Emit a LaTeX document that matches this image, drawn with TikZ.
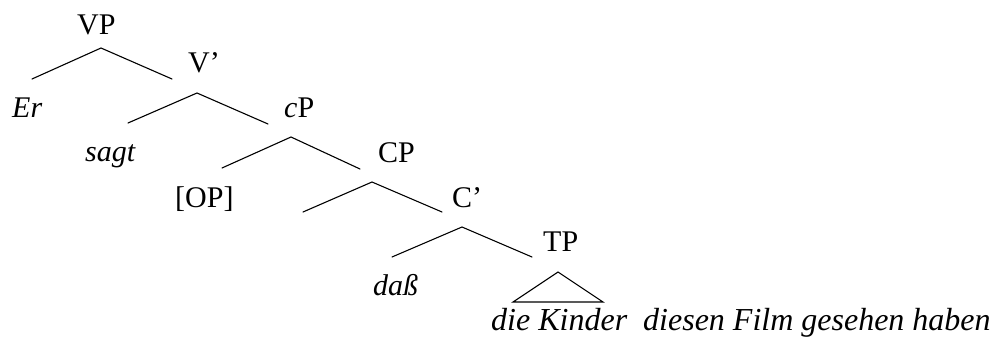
\documentclass[tikz,border=0pt]{standalone}
\usepackage{fontspec}
\setmainfont{Liberation Serif}
\begin{document}
\begin{tikzpicture}[x=1pt,y=-1pt,
  lbl/.style={inner sep=0pt,anchor=base west,font=\fontsize{30}{35}\selectfont},
  branch/.style={line width=1.1pt,line cap=round,line join=miter}]
\useasboundingbox (0,0) rectangle (998,345);
% labels
\node[lbl] (VP) at (77,35) {VP};
\node[lbl] (Vbar) at (188,72) {V'};
\node[lbl] (Er) at (12,117) {\itshape Er};
\node[lbl] (cP) at (284,117) {{\itshape c}P};
\node[lbl] (sagt) at (85,161) {\itshape sagt};
\node[lbl] (CP) at (378,162) {CP};
\node[lbl] (OP) at (175,207) {[OP]};
\node[lbl] (Cbar) at (452,207) {C'};
\node[lbl] (dass) at (373,295) {\itshape daß};
\node[lbl] (TP) at (543,251) {TP};
\node[lbl,font=\fontsize{32}{37}\selectfont\itshape] (words) at (491,330) {die Kinder\hspace{0.5em}diesen Film gesehen haben};
% branch coordinates
\coordinate (vpT) at (101,48);  \coordinate (vpL) at (32,79);  \coordinate (vpR) at (172,79);
\coordinate (vbT) at (197,93);  \coordinate (vbL) at (128,123); \coordinate (vbR) at (268,124);
\coordinate (cpT) at (291,137); \coordinate (cpL) at (222,168); \coordinate (cpR) at (360,169);
\coordinate (CPT) at (372,182); \coordinate (CPL) at (303,212); \coordinate (CPR) at (442,212);
\coordinate (cbT) at (462,227); \coordinate (cbL) at (392,257); \coordinate (cbR) at (532,257);
\coordinate (tpT) at (558,272); \coordinate (tpL) at (513,302); \coordinate (tpR) at (603,302);
\draw[branch] (vpL) -- (vpT) -- (vpR);
\draw[branch] (vbL) -- (vbT) -- (vbR);
\draw[branch] (cpL) -- (cpT) -- (cpR);
\draw[branch] (CPL) -- (CPT) -- (CPR);
\draw[branch] (cbL) -- (cbT) -- (cbR);
\draw[branch] (tpL) -- (tpT) -- (tpR) -- cycle;
\end{tikzpicture}
\end{document}
